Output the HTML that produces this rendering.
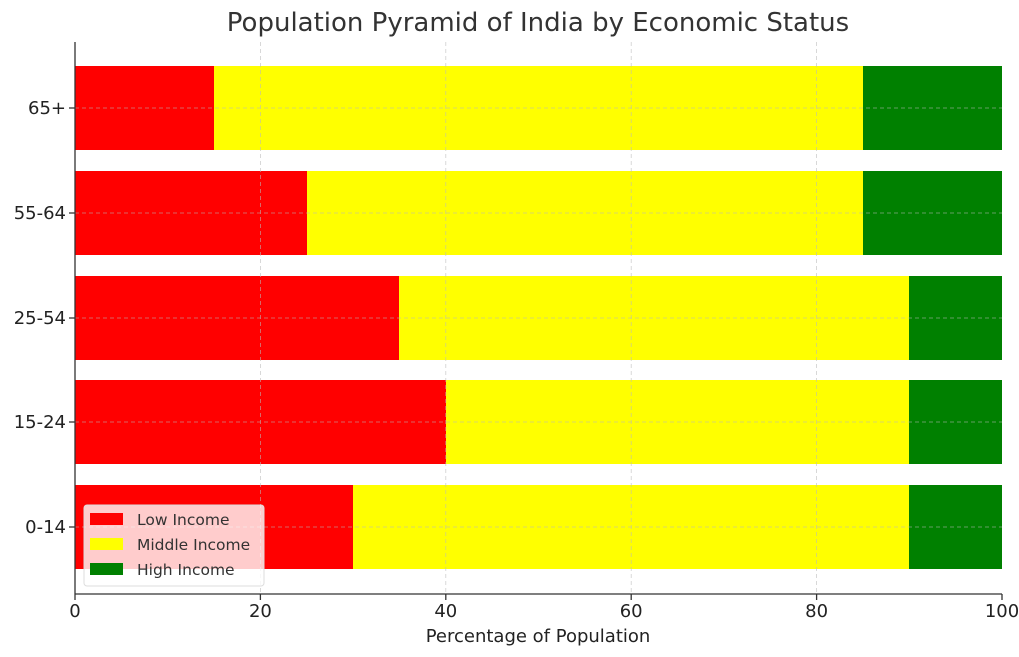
<!DOCTYPE html>
<html><head><style>body{margin:0;background:#fff}</style></head><body>
<svg width="1019" height="652" xmlns="http://www.w3.org/2000/svg" font-family="DejaVu Sans, Liberation Sans, sans-serif">
<rect width="1019" height="652" fill="#fff"/>
<text x="538" y="31" text-anchor="middle" font-size="26" fill="#333">Population Pyramid of India by Economic Status</text>
<g id="bars">
<rect x="75" y="66" width="139" height="84" fill="#ff0000"/><rect x="214" y="66" width="649" height="84" fill="#ffff00"/><rect x="863" y="66" width="139" height="84" fill="#008000"/>
<rect x="75" y="171" width="232" height="84" fill="#ff0000"/><rect x="307" y="171" width="556" height="84" fill="#ffff00"/><rect x="863" y="171" width="139" height="84" fill="#008000"/>
<rect x="75" y="276" width="324" height="84" fill="#ff0000"/><rect x="399" y="276" width="510" height="84" fill="#ffff00"/><rect x="909" y="276" width="93" height="84" fill="#008000"/>
<rect x="75" y="380" width="371" height="84" fill="#ff0000"/><rect x="446" y="380" width="463" height="84" fill="#ffff00"/><rect x="909" y="380" width="93" height="84" fill="#008000"/>
<rect x="75" y="485" width="278" height="84" fill="#ff0000"/><rect x="353" y="485" width="556" height="84" fill="#ffff00"/><rect x="909" y="485" width="93" height="84" fill="#008000"/>
</g>
<g stroke="#bbb" stroke-width="0.8" stroke-dasharray="4,3" opacity="0.7">
<line x1="260.4" y1="42" x2="260.4" y2="594"/><line x1="445.8" y1="42" x2="445.8" y2="594"/><line x1="631.2" y1="42" x2="631.2" y2="594"/><line x1="816.6" y1="42" x2="816.6" y2="594"/>
<line x1="75" y1="108" x2="1002" y2="108"/><line x1="75" y1="213" x2="1002" y2="213"/><line x1="75" y1="318" x2="1002" y2="318"/><line x1="75" y1="422" x2="1002" y2="422"/><line x1="75" y1="527" x2="1002" y2="527"/>
</g>
<g stroke="#333" stroke-width="1.3">
<line x1="75" y1="42" x2="75" y2="594"/><line x1="75" y1="594" x2="1002" y2="594"/>
<line x1="75" y1="594" x2="75" y2="600"/><line x1="260.4" y1="594" x2="260.4" y2="600"/><line x1="445.8" y1="594" x2="445.8" y2="600"/><line x1="631.2" y1="594" x2="631.2" y2="600"/><line x1="816.6" y1="594" x2="816.6" y2="600"/><line x1="1002" y1="594" x2="1002" y2="600"/>
<line x1="69" y1="108" x2="75" y2="108"/><line x1="69" y1="213" x2="75" y2="213"/><line x1="69" y1="318" x2="75" y2="318"/><line x1="69" y1="422" x2="75" y2="422"/><line x1="69" y1="527" x2="75" y2="527"/>
</g>
<g font-size="18" fill="#222" text-anchor="middle">
<text x="75" y="617">0</text><text x="260.4" y="617">20</text><text x="445.8" y="617">40</text><text x="631.2" y="617">60</text><text x="816.6" y="617">80</text><text x="1002" y="617">100</text>
</g>
<g font-size="18" fill="#222" text-anchor="end">
<text x="66" y="114">65+</text><text x="66" y="219">55-64</text><text x="66" y="324">25-54</text><text x="66" y="428">15-24</text><text x="66" y="533">0-14</text>
</g>
<text x="538" y="642" text-anchor="middle" font-size="18" fill="#222">Percentage of Population</text>
<rect x="84" y="505" width="180" height="81" rx="3" fill="#fff" fill-opacity="0.8" stroke="#ddd"/>
<rect x="90" y="513" width="33" height="12" fill="#ff0000"/><rect x="90" y="538" width="33" height="12" fill="#ffff00"/><rect x="90" y="563" width="33" height="12" fill="#008000"/>
<g font-size="15.5" fill="#333"><text x="137" y="525">Low Income</text><text x="137" y="550">Middle Income</text><text x="137" y="575">High Income</text></g>
</svg>
</body></html>
